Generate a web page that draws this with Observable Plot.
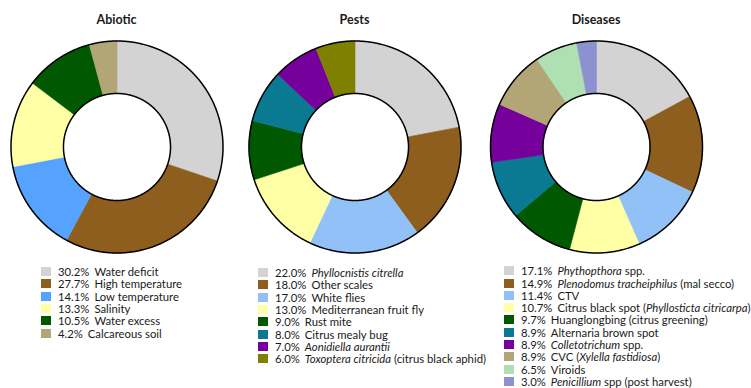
<!DOCTYPE html>
<html><head><meta charset="utf-8">
<script src="https://cdn.jsdelivr.net/npm/d3@7"></script>
<script src="https://cdn.jsdelivr.net/npm/@observablehq/plot@0.6"></script>
<style>
body{margin:0;background:#fff;font-family:Lato,"Open Sans",sans-serif;color:#1a1a1a;}
#root{position:relative;width:751px;height:388px;overflow:hidden;background:#fff;}
.title{position:absolute;top:12px;font-weight:bold;font-size:12.5px;transform:translateX(-50%);white-space:nowrap;}
.chart{position:absolute;top:0;}
.legend{position:absolute;font-size:11.3px;}
.row{display:flex;align-items:center;height:12.3px;white-space:nowrap;}
.sw{width:10px;height:9px;margin-right:7px;flex:none;}
.pct{margin-right:5px;}
</style></head><body><div id="root"></div>
<script>
// ---- data ----
const abioticLabels = ["Water deficit","High temperature","Low temperature","Salinity","Water excess","Calcareous soil"];
const abioticValues = [30.2, 27.7, 14.1, 13.3, 10.5, 4.2];

const pestLabels = ["*Phyllocnistis citrella*","Other scales","White flies","Mediterranean fruit fly","Rust mite","Citrus mealy bug","*Aonidiella aurantii*","*Toxoptera citricida* (citrus black aphid)"];
const pestValues = [22.0, 18.0, 17.0, 13.0, 9.0, 8.0, 7.0, 6.0];

const diseaseLabels = ["*Phythopthora* spp.","*Plenodomus tracheiphilus* (mal secco)","CTV","Citrus black spot (*Phyllosticta citricarpa*)","Huanglongbing (citrus greening)","Alternaria brown spot","*Colletotrichum* spp.","CVC (*Xylella fastidiosa*)","Viroids","*Penicillium* spp (post harvest)"];
const diseaseValues = [17.1, 14.9, 11.4, 10.7, 9.7, 8.9, 8.9, 8.9, 6.5, 3.0];

const titles = ["Abiotic","Pests","Diseases"];

// ---- styles ----
const abioticColors = ["#d3d3d3","#8e5e1e","#55a3ff","#ffffa6","#005800","#b3a676"];
const pestColors = ["#d3d3d3","#8e5e1e","#92c1f8","#ffffa6","#005800","#0a7a93","#75009b","#808000"];
const diseaseColors = ["#d3d3d3","#8e5e1e","#92c1f8","#ffffa6","#005800","#0a7a93","#75009b","#b3a676","#aee0b3","#8e91d0"];

const INNER = 0.505;
const root = document.getElementById("root");

function ringPoints(labels, values) {
  const total = d3.sum(values);
  const pts = [];
  let acc = 0;
  labels.forEach((lab, i) => {
    const a0 = acc / total * 2 * Math.PI;
    acc += values[i];
    const a1 = acc / total * 2 * Math.PI;
    const n = Math.max(2, Math.ceil((a1 - a0) / (Math.PI / 360)));
    const seg = [];
    for (let k = 0; k <= n; k++) { const a = a0 + (a1 - a0) * k / n; seg.push({label: lab, x: Math.sin(a), y: Math.cos(a)}); }
    for (let k = n; k >= 0; k--) { const a = a0 + (a1 - a0) * k / n; seg.push({label: lab, x: INNER * Math.sin(a), y: INNER * Math.cos(a)}); }
    seg.push({...seg[0]});
    pts.push(...seg);
  });
  return pts;
}
function circle(rr) {
  return d3.range(0, 721).map(k => { const a = k / 720 * 2 * Math.PI; return {x: rr * Math.sin(a), y: rr * Math.cos(a)}; });
}

function donut(labels, values, colors, left, width, cx, cy, R) {
  const svg = Plot.plot({
    width, height: 258, margin: 0,
    x: {domain: [-1, 1], range: [cx - R, cx + R], axis: null},
    y: {domain: [-1, 1], range: [cy + R, cy - R], axis: null},
    color: {domain: labels, range: colors},
    marks: [
      Plot.line(ringPoints(labels, values), {x: "x", y: "y", z: "label", fill: "label", stroke: "label", strokeWidth: 0.6, curve: "linear"}),
      Plot.line(circle(1), {x: "x", y: "y", stroke: "#000", strokeWidth: 1.5}),
      Plot.line(circle(INNER), {x: "x", y: "y", stroke: "#000", strokeWidth: 1.5})
    ]
  });
  svg.classList.add("chart");
  svg.style.left = left + "px";
  svg.style.background = "transparent";
  root.appendChild(svg);
}

function richText(s) {
  return s.split("*").map((part, i) => i % 2 ? "<i>" + part + "</i>" : part).join("");
}

function legend(labels, values, colors, left, top) {
  const div = document.createElement("div");
  div.className = "legend";
  div.style.left = left + "px";
  div.style.top = top + "px";
  labels.forEach((lab, i) => {
    const row = document.createElement("div");
    row.className = "row";
    row.innerHTML = `<span class="sw" style="background:${colors[i]}"></span><span class="pct">${values[i].toFixed(1)}%</span><span>${richText(lab)}</span>`;
    div.appendChild(row);
  });
  root.appendChild(div);
}

function title(text, x) {
  const t = document.createElement("div");
  t.className = "title";
  t.style.left = x + "px";
  t.textContent = text;
  root.appendChild(t);
}

donut(abioticLabels, abioticValues, abioticColors, 0, 240, 116.5, 146.5, 106);
donut(pestLabels, pestValues, pestColors, 240, 240, 114.5, 146.5, 106);
donut(diseaseLabels, diseaseValues, diseaseColors, 480, 271, 116, 146.5, 106);

title(titles[0], 116.5);
title(titles[1], 354.5);
title(titles[2], 596);

legend(abioticLabels, abioticValues, abioticColors, 41, 265.4);
legend(pestLabels, pestValues, pestColors, 258, 266.5);
legend(diseaseLabels, diseaseValues, diseaseColors, 504, 264.6);
</script></body></html>
